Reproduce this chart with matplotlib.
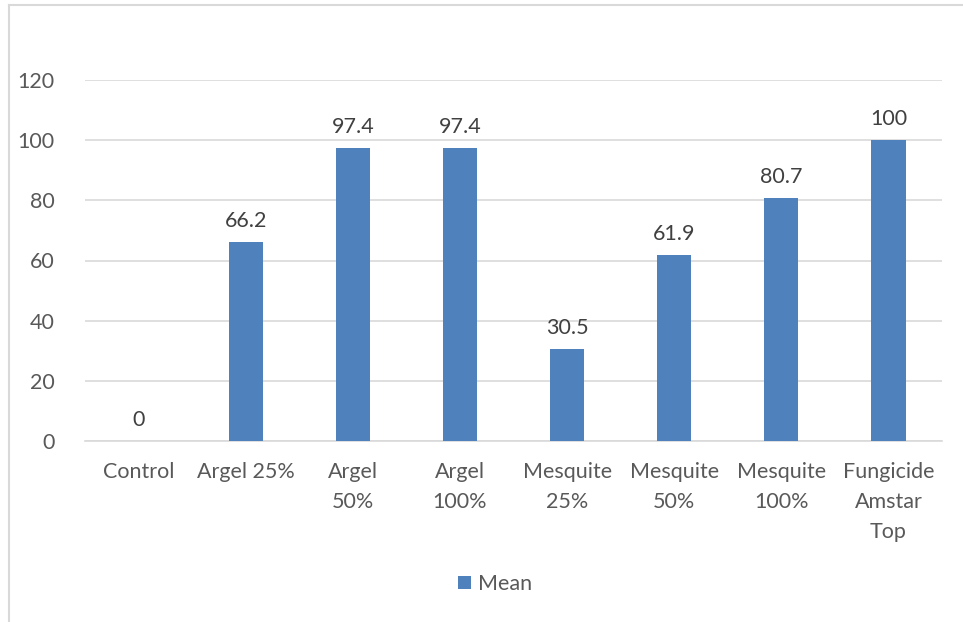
import numpy as np
import matplotlib.pyplot as plt
from matplotlib.lines import Line2D

# treatment groups and their mean values
labels = ["Control", "Argel 25%", "Argel\n50%", "Argel\n100%", "Mesquite\n25%",
          "Mesquite\n50%", "Mesquite\n100%", "Fungicide\nAmstar\nTop"]
means = [0, 66.2, 97.4, 97.4, 30.5, 61.9, 80.7, 100]
value_text = ["0", "66.2", "97.4", "97.4", "30.5", "61.9", "80.7", "100"]

plt.rcParams['font.family'] = ['Lato', 'DejaVu Sans']
grey = "#595959"
fs = 15.5

fig = plt.figure(figsize=(9.63, 6.22), dpi=100)
ax = fig.add_axes([85/963, 1-441/622, (942-85)/963, (441-80)/622])

x = np.arange(len(labels))
bars = ax.bar(x, means, width=0.32, color="#4f81bd", label="Mean", zorder=3)
for xi, m, t in zip(x, means, value_text):
    ax.text(xi, m + 3.6, t, ha="center", va="bottom", fontsize=fs, color="#404040")

ax.set_ylim(0, 120)
ax.set_xlim(-0.5, len(labels) - 0.5)
ax.set_yticks(np.arange(0, 121, 20))
ax.yaxis.grid(True, color="#d9d9d9", linewidth=1.2, zorder=0)
ax.set_xticks(x)
ax.set_xticklabels(labels, linespacing=1.63)
ax.tick_params(axis="both", length=0, labelsize=fs, colors=grey)
ax.tick_params(axis="x", pad=15)
ax.tick_params(axis="y", pad=22)
for s in ["top", "right", "left"]:
    ax.spines[s].set_visible(False)
ax.spines["bottom"].set_color("#d9d9d9")
ax.spines["bottom"].set_linewidth(1.2)

fig.legend(handles=[bars], loc="center", bbox_to_anchor=(495/963, 1-584/622),
           frameon=False, fontsize=fs, handlelength=0.6, handleheight=0.6,
           handletextpad=0.3, labelcolor=grey)

# chart frame edges
fig.add_artist(Line2D([8.5/963, 8.5/963], [0, 1-5/622], color="#d9d9d9", linewidth=1.5))
fig.add_artist(Line2D([8.5/963, 962/963], [1-5/622, 1-5/622], color="#d9d9d9", linewidth=1.5))

fig.savefig("out.png", dpi=100)
